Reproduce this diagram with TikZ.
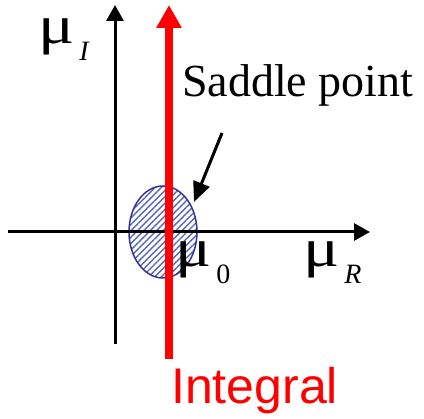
\documentclass[tikz,border=0pt]{standalone}
\usepackage{fontspec}
\setmainfont{Liberation Serif}
\newfontfamily\arialfont{Liberation Sans}
\usetikzlibrary{arrows.meta,shapes.geometric,patterns.meta}
\definecolor{rimblue}{HTML}{333399}
\definecolor{hatchblue}{HTML}{5566BB}
\newcommand{\musub}[1]{\scalebox{1.25}[1]{\fontsize{54}{60}\selectfont μ}\hspace{5pt}\raisebox{-17pt}{\fontsize{28}{30}\selectfont #1}}

\begin{document}
\begin{tikzpicture}[x=1pt,y=-1pt,axis/.style={-{Triangle[length=16pt,width=17pt]},line width=3pt,draw=black},lbl/.style={anchor=base west,inner sep=0pt,font=\fontsize{48}{56}\selectfont},contour/.style={-{Triangle[length=23pt,width=24pt]},line width=8pt,draw=red},pointer/.style={-{Triangle[length=20pt,width=17pt]},line width=3pt,draw=black}]
\useasboundingbox (0,0) rectangle (424,419);
\node[ellipse,draw=rimblue,line width=1.5pt,minimum width=68pt,minimum height=92pt,inner sep=0pt,pattern={Lines[angle=45,distance=4.5pt,line width=1.4pt]},pattern color=hatchblue] (saddle) at (163,232) {};
\coordinate (xl) at (8,232);
\coordinate (xr) at (370,232);
\coordinate (yb) at (115,344);
\coordinate (yt) at (115,5);
\draw[axis] (xl) -- (xr);
\draw[axis] (yb) -- (yt);
\coordinate (cb) at (169,359);
\coordinate (ct) at (169,5);
\draw[contour] (cb) -- (ct);
\node[lbl] (muI) at (38,44) {\musub{\textit{I}}};
\node[lbl] (mu0) at (175,267) {\musub{0}};
\node[lbl] (muR) at (303,267) {\musub{\textit{R}}};
\node[lbl,font=\fontsize{46}{54}\selectfont] (sp) at (182,97) {Saddle point};
\node[lbl,font=\arialfont\fontsize{50}{60}\selectfont,text=red] (integ) at (171,404) {Integral};
\coordinate (ps) at (222,133);
\coordinate (pe) at (194,202);
\draw[pointer] (ps) -- (pe);
\end{tikzpicture}
\end{document}
